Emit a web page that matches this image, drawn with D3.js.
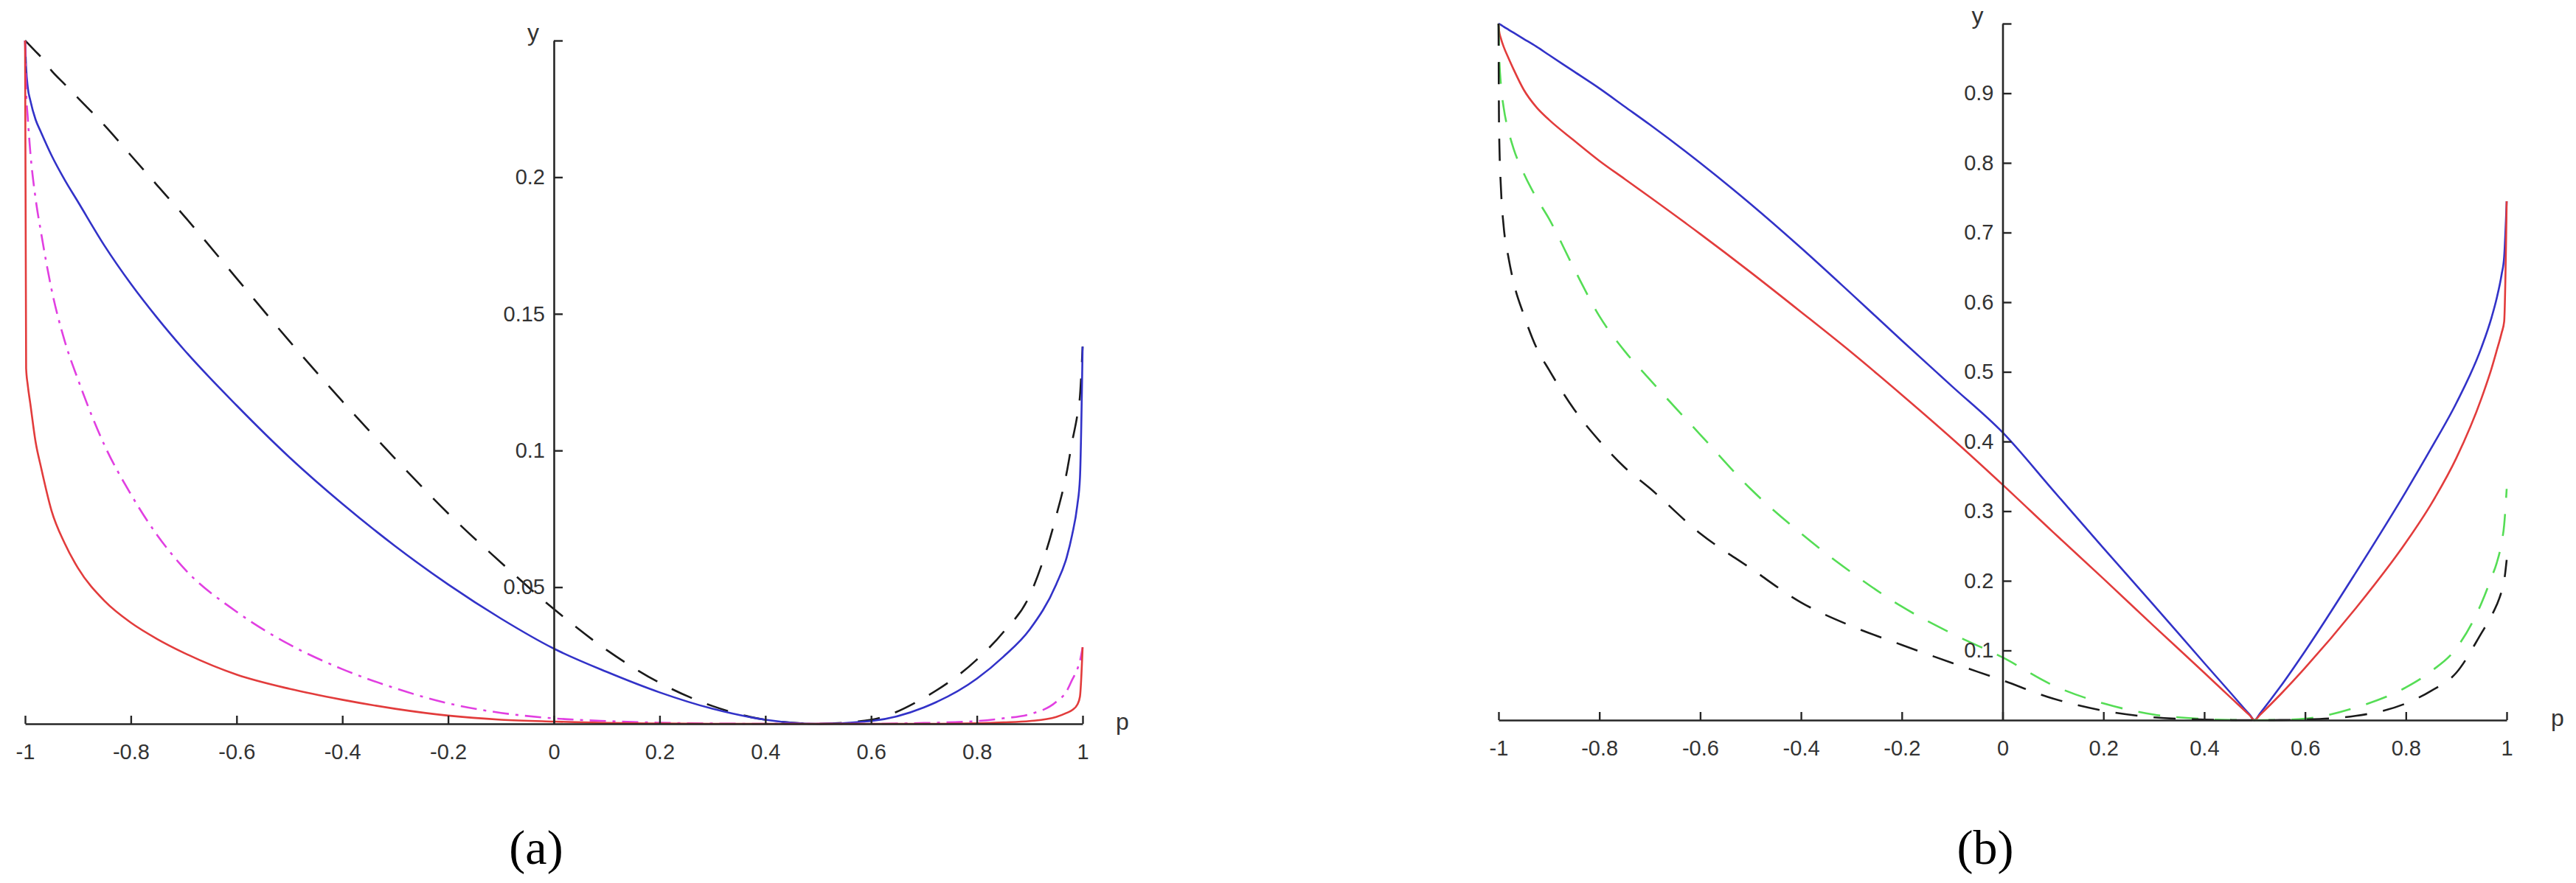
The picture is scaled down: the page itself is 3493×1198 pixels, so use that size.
<!DOCTYPE html>
<html>
<head>
<meta charset="utf-8">
<script src="https://cdn.jsdelivr.net/npm/d3@7/dist/d3.min.js"></script>
<style>
body { margin: 0; background: #ffffff; }
svg { display: block; }
</style>
</head>
<body>
<div id="container"></div>
<script>

// ---- panel (a) ----
var pA = [-1, -0.998, -0.995, -0.99, -0.98, -0.97, -0.95, -0.925, -0.9, -0.85, -0.8, -0.75, -0.7,
          -0.6, -0.5, -0.4, -0.3, -0.2, -0.1, 0, 0.1, 0.2, 0.3, 0.4, 0.5, 0.6, 0.7, 0.8, 0.85,
          0.9, 0.95, 0.97, 0.98, 0.99, 0.995, 1];

var blackA = [0.250, 0.2496, 0.249, 0.248, 0.246, 0.244, 0.239, 0.234, 0.229, 0.219, 0.208, 0.197, 0.186,
              0.163, 0.140, 0.118, 0.097, 0.077, 0.059, 0.042, 0.027, 0.015, 0.0065, 0.0015, 0, 0.0015, 0.0095, 0.0235, 0.0335,
              0.047, 0.076, 0.092, 0.103, 0.113, 0.120, 0.138];

var blueA = [0.250, 0.240, 0.233, 0.228, 0.221, 0.2165, 0.208, 0.199, 0.191, 0.175, 0.161, 0.1485, 0.137,
             0.1165, 0.0975, 0.0805, 0.065, 0.051, 0.0385, 0.0275, 0.019, 0.0115, 0.0055, 0.0015, 0, 0.001, 0.006, 0.0165, 0.0245,
             0.0345, 0.051, 0.061, 0.069, 0.080, 0.090, 0.138];

var magentaA = [0.250, 0.232, 0.222, 0.209, 0.192, 0.180, 0.159, 0.140, 0.126, 0.102, 0.084, 0.069, 0.057,
                0.041, 0.029, 0.020, 0.013, 0.0075, 0.004, 0.002, 0.001, 0.0004, 0.0001, 0, 0, 0, 0.0003, 0.001, 0.002,
                0.0035, 0.008, 0.012, 0.016, 0.020, 0.023, 0.028];

var redA = [0.250, 0.130, 0.124, 0.117, 0.103, 0.094, 0.078, 0.066, 0.057, 0.045, 0.037, 0.031, 0.026,
            0.018, 0.0128, 0.0088, 0.0055, 0.003, 0.0015, 0.0008, 0.0003, 0.0001, 0, 0, 0, 0, 0, 0.0002, 0.0005,
            0.001, 0.0025, 0.004, 0.005, 0.007, 0.010, 0.028];

// ---- panel (b) ----
var pB = [-1, -0.999, -0.995, -0.99, -0.98, -0.97, -0.95, -0.925, -0.9, -0.85, -0.8, -0.75, -0.7,
          -0.6, -0.5, -0.4, -0.3, -0.2, -0.1, 0, 0.1, 0.2, 0.3, 0.4, 0.45, 0.49, 0.5, 0.51, 0.55,
          0.6, 0.7, 0.8, 0.85, 0.9, 0.95, 0.97, 0.98, 0.99, 0.995, 1];

var blueB = [1.0, 0.9996, 0.998, 0.9956, 0.9912, 0.9868, 0.978, 0.967, 0.955, 0.931, 0.907, 0.881, 0.855,
             0.800, 0.741, 0.678, 0.612, 0.545, 0.479, 0.413, 0.330, 0.247, 0.165, 0.082, 0.041, 0.008, 0, 0.009, 0.047,
             0.099, 0.211, 0.328, 0.390, 0.455, 0.535, 0.578, 0.605, 0.640, 0.665, 0.745];

var redB = [1.0, 0.990, 0.978, 0.967, 0.950, 0.934, 0.905, 0.880, 0.862, 0.832, 0.803, 0.777, 0.751,
            0.698, 0.643, 0.586, 0.528, 0.467, 0.404, 0.338, 0.270, 0.203, 0.135, 0.068, 0.034, 0.007, 0, 0.007, 0.036,
            0.075, 0.160, 0.255, 0.310, 0.376, 0.462, 0.505, 0.530, 0.556, 0.572, 0.745];

var greenB = [1.0, 0.960, 0.910, 0.880, 0.845, 0.820, 0.785, 0.750, 0.720, 0.648, 0.580, 0.530, 0.489,
              0.410, 0.332, 0.268, 0.212, 0.163, 0.124, 0.090, 0.050, 0.024, 0.008, 0.0015, 0.0003, 0, 0, 0, 0.0003,
              0.002, 0.018, 0.047, 0.070, 0.103, 0.168, 0.205, 0.225, 0.255, 0.280, 0.332];

var blackB = [1.0, 0.850, 0.760, 0.710, 0.663, 0.628, 0.582, 0.535, 0.503, 0.446, 0.401, 0.363, 0.333,
              0.268, 0.218, 0.169, 0.135, 0.108, 0.082, 0.057, 0.031, 0.0135, 0.004, 0.0007, 0.0001, 0, 0, 0, 0.0001,
              0.0008, 0.006, 0.024, 0.042, 0.068, 0.125, 0.150, 0.165, 0.185, 0.200, 0.230];

// ---- ticks ----
var xTicks = [-1, -0.8, -0.6, -0.4, -0.2, 0, 0.2, 0.4, 0.6, 0.8, 1];
var xTickLabels = ["-1", "-0.8", "-0.6", "-0.4", "-0.2", "0", "0.2", "0.4", "0.6", "0.8", "1"];

var yTicksA = [0.05, 0.1, 0.15, 0.2, 0.25];
var yTickLabelsA = ["0.05", "0.1", "0.15", "0.2", ""];

var yTicksB = [0.1, 0.2, 0.3, 0.4, 0.5, 0.6, 0.7, 0.8, 0.9, 1];
var yTickLabelsB = ["0.1", "0.2", "0.3", "0.4", "0.5", "0.6", "0.7", "0.8", "0.9", ""];


var svg = d3.select("#container").append("svg")
    .attr("width", 3493)
    .attr("height", 1198)
    .style("background", "#ffffff");

var AXIS_COLOR = "#262626";
var TICK_FONT = "'Liberation Sans', Arial, Helvetica, sans-serif";

/**
 * One of the two sub-figures
 @constructor
 */
var Panel = function (box)
{
    this.box = box;
    this.x = d3.scaleLinear().domain([-1, 1]).range([box.left, box.right]);
    this.y = d3.scaleLinear().domain([0, box.yMax]).range([box.bottom, box.top]);
    this.g = svg.append("g");
};

Panel.prototype.drawAxes = function (yTicks, yLabels)
{
    var x = this.x;
    var y = this.y;

    var xAxis = this.g.append("g")
        .attr("transform", "translate(0," + y(0) + ")")
        .call(d3.axisBottom(x)
            .tickValues(xTicks)
            .tickFormat(function (d, i) { return xTickLabels[i]; })
            .tickSizeInner(-11)
            .tickSizeOuter(0)
            .tickPadding(27));

    var yAxis = this.g.append("g")
        .attr("transform", "translate(" + x(0) + ",0)")
        .call(d3.axisLeft(y)
            .tickValues(yTicks)
            .tickFormat(function (d, i) { return yLabels[i]; })
            .tickSizeInner(-12)
            .tickSizeOuter(0)
            .tickPadding(12));

    for (const ax of [xAxis, yAxis])
    {
        ax.attr("font-family", TICK_FONT).attr("font-size", 29);
        ax.select(".domain").attr("stroke", AXIS_COLOR).attr("stroke-width", 2.6);
        ax.selectAll(".tick line").attr("stroke", AXIS_COLOR).attr("stroke-width", 2.4);
        ax.selectAll(".tick text").attr("fill", "#333333");
    }

    this.g.append("text")
        .attr("x", x(0) - this.box.yLabelDx)
        .attr("y", y(this.box.yMax))
        .attr("text-anchor", "middle")
        .attr("font-family", TICK_FONT)
        .attr("font-size", 32)
        .attr("fill", "#333333")
        .text("y");

    this.g.append("text")
        .attr("x", x(1) + this.box.pLabelDx)
        .attr("y", y(0) + 8)
        .attr("text-anchor", "middle")
        .attr("font-family", TICK_FONT)
        .attr("font-size", 32)
        .attr("fill", "#333333")
        .text("p");
}

Panel.prototype.addCurve = function (ps, values, color, dash)
{
    var x = this.x;
    var y = this.y;
    var line = d3.line()
        .x(function (d) { return x(d[0]); })
        .y(function (d) { return y(d[1]); })
        .curve(d3.curveMonotoneX);

    this.g.append("path")
        .datum(d3.zip(ps, values))
        .attr("d", line)
        .attr("fill", "none")
        .attr("stroke", color)
        .attr("stroke-width", 2.6)
        .attr("stroke-linejoin", "round")
        .attr("stroke-dasharray", dash || null);
}

Panel.prototype.addCaption = function (label)
{
    this.g.append("text")
        .attr("x", this.box.captionX)
        .attr("y", 1172)
        .attr("text-anchor", "middle")
        .attr("font-family", "'Liberation Serif', 'DejaVu Serif', serif")
        .attr("font-size", 66)
        .attr("fill", "#000000")
        .text(label);
}


var panelA = new Panel({ left: 34, right: 1468, top: 55, bottom: 982, yMax: 0.25,
                         yLabelDx: 28, pLabelDx: 54, captionX: 727 });
panelA.addCurve(pA, blackA, "#1a1a1a", "30,22");
panelA.addCurve(pA, blueA, "#3232c8");
panelA.addCurve(pA, magentaA, "#e13fe1", "22,9,4,9");
panelA.addCurve(pA, redA, "#e23c3c");
panelA.drawAxes(yTicksA, yTickLabelsA);
panelA.addCaption("(a)");

var panelB = new Panel({ left: 2032, right: 3399, top: 32, bottom: 977, yMax: 1,
                         yLabelDx: 34, pLabelDx: 69, captionX: 2692 });
panelB.addCurve(pB, blueB, "#3232c8");
panelB.addCurve(pB, redB, "#e23c3c");
panelB.addCurve(pB, greenB, "#55dd55", "30,22");
panelB.addCurve(pB, blackB, "#1a1a1a", "30,22");
panelB.drawAxes(yTicksB, yTickLabelsB);
panelB.addCaption("(b)");

</script>
</body>
</html>
